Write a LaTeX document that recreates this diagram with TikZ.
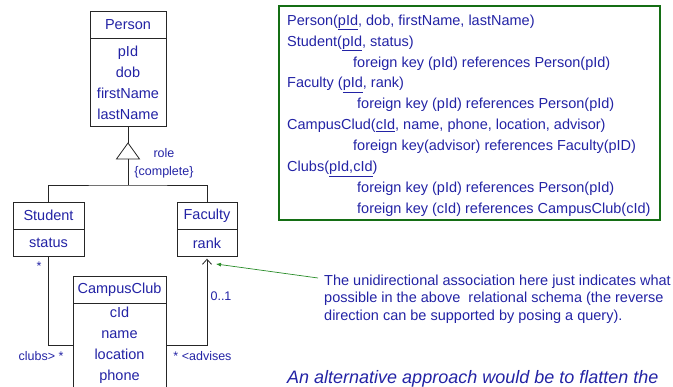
\documentclass[tikz,border=0pt]{standalone}
\usepackage{fontspec}
\setmainfont{Liberation Sans}
\usetikzlibrary{arrows.meta}
\definecolor{umlblue}{RGB}{35,35,165}
\definecolor{boxgreen}{RGB}{20,110,20}
\definecolor{notegreen}{RGB}{40,140,40}
\begin{document}
\begin{tikzpicture}[x=1pt,y=-1pt,
  cls/.style={draw=black!85, line width=0.8pt, fill=white, text=umlblue,
    font=\fontsize{14.5}{21}\selectfont, align=center, inner sep=0pt},
  attrs/.style={text=umlblue, font=\fontsize{14.5}{21}\selectfont, align=center, inner sep=0pt},
  lbl/.style={text=umlblue, font=\fontsize{12.5}{18}\selectfont, align=center, inner sep=0pt},
  conn/.style={draw=black!85, line width=0.8pt}]
\useasboundingbox (0,0) rectangle (673,387);
\clip (0,0) rectangle (673,387);

% Person class
\node[cls, minimum width=76pt, minimum height=27pt] (personH) at (128,24.5) {Person};
\node[cls, minimum width=76pt, minimum height=88pt, anchor=north] (personB) at (personH.south)
  {pId\\dob\\firstName\\lastName};

% Student class
\node[cls, minimum width=71pt, minimum height=27pt] (studentH) at (48.5,215.5) {Student};
\node[cls, minimum width=71pt, minimum height=27pt, anchor=north] (studentB) at (studentH.south) {status};

% Faculty class
\node[cls, minimum width=60pt, minimum height=27pt] (facultyH) at (207,215.5) {Faculty};
\node[cls, minimum width=60pt, minimum height=27pt, anchor=north] (facultyB) at (facultyH.south) {rank};

% CampusClub class (runs past the lower edge)
\node[cls, minimum width=93pt, minimum height=27pt] (ccH) at (119.5,289.5) {CampusClub};
\node[cls, minimum width=93pt, minimum height=100pt, anchor=north] (ccB) at (ccH.south) {};
\node[attrs] (ccAttrs) at (119.5,345.5) {cId\\name\\location\\phone};

% generalization
\coordinate (triTop) at (128,143);
\coordinate (triBase) at (128,159);
\coordinate (hier) at (128,185);
\draw[conn] (personB.south) -- (triTop);
\draw[conn] (triTop) -- ++(-11.5,16) -- ++(23,0) -- cycle;
\draw[conn] (triBase) -- (hier);
\draw[conn] (studentH.north) |- (hier) -| (facultyH.north);
\node[lbl] (role) at (164,163) {role\\\{complete\}};

% associations
\path (ccB.north west) ++(0,42) coordinate (ccL);
\path (ccB.north east) ++(0,42) coordinate (ccR);
\draw[conn] (studentB.south) |- (ccL);
\draw[conn, -{Straight Barb[length=5pt,width=9pt]}] (ccR) -| ([yshift=-1.5pt]facultyB.south);
\node[lbl] (mStudent) at (39,266) {*};
\node[lbl] (mClubs) at (41,356) {clubs> *};
\node[lbl] (mFaculty) at (221,296) {0..1};
\node[lbl] (mAdvises) at (202.5,356) {* <advises};

% relational schema
\node[draw=boxgreen, line width=2pt, minimum width=381pt, minimum height=214pt,
  anchor=north west, inner sep=0pt] (schemaBox) at (278,5) {};
\node[text=umlblue, font=\fontsize{14.5}{20.9}\selectfont, align=left, inner sep=0pt,
  anchor=north west] (schema) at (287,14.5) {%
Person(\underline{pId}, dob, firstName, lastName)\\
Student(\underline{pId}, status)\\
\hspace*{66pt}foreign key (pId) references Person(pId)\\
Faculty (\underline{pId}, rank)\\
\hspace*{70pt}foreign key (pId) references Person(pId)\\
CampusClud(\underline{cId}, name, phone, location, advisor)\\
\hspace*{66pt}foreign key(advisor) references Faculty(pID)\\
Clubs(\underline{pId,cId})\\
\hspace*{70pt}foreign key (pId) references Person(pId)\\
\hspace*{70pt}foreign key (cId) references CampusClub(cId)};

% note on the directed association
\node[text=umlblue, font=\fontsize{14.5}{17.5}\selectfont, align=left, inner sep=0pt,
  anchor=north west] (note) at (324,274.5) {%
The unidirectional association here just indicates what\\
possible in the above\ \ relational schema (the reverse\\
direction can be supported by posing a query).};
\coordinate (noteTail) at ([xshift=-6pt,yshift=-3.5pt]note.north west);
\coordinate (noteTip) at (216,264);
\draw[notegreen, line width=0.7pt, -{Latex[length=5pt,width=4pt]}] (noteTail) -- (noteTip);

% closing remark
\node[text=umlblue, font=\fontsize{18}{22}\selectfont\itshape, inner sep=0pt,
  anchor=base west] (flat) at (287,383.5) {An alternative approach would be to flatten the};
\end{tikzpicture}
\end{document}
